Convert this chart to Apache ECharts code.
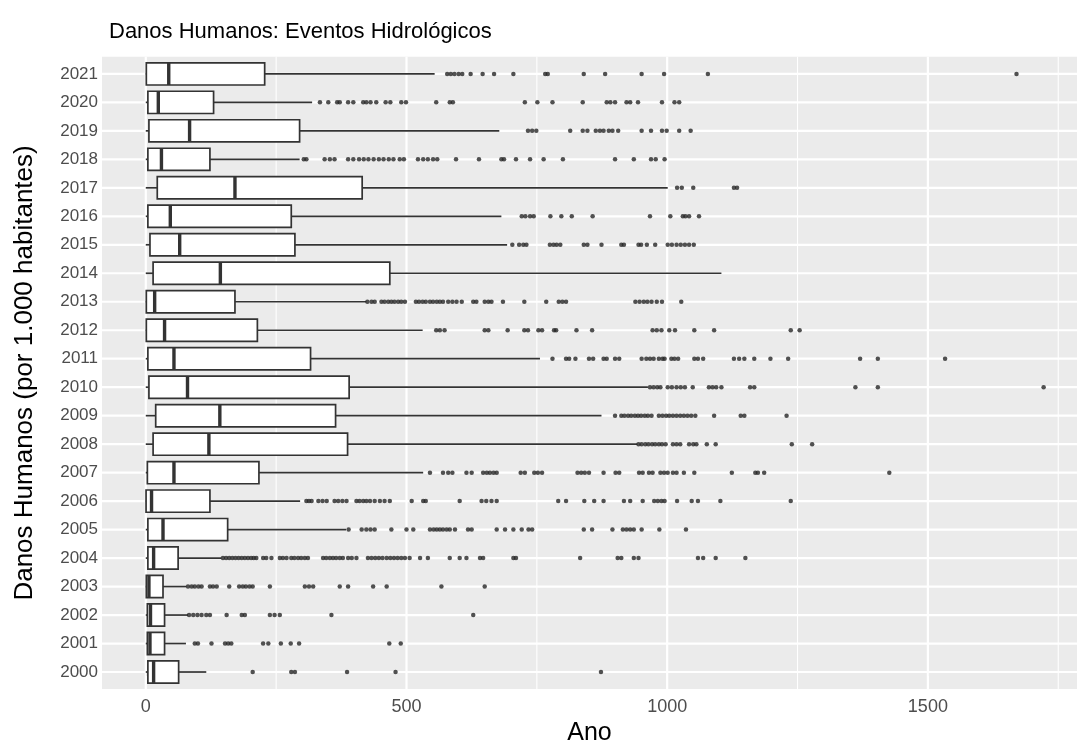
<!DOCTYPE html>
<html>
<head>
<meta charset="utf-8">
<title>Danos Humanos: Eventos Hidrológicos</title>
<script src="https://cdn.jsdelivr.net/npm/echarts@6/dist/echarts.min.js"></script>
<style>
  html, body { margin: 0; padding: 0; background: #ffffff; }
  #chart { width: 1077px; height: 751px; }
</style>
</head>
<body>
<div id="chart"></div>
<script>
// Categories (bottom to top)
const years = ['2000','2001','2002','2003','2004','2005','2006','2007','2008','2009','2010',
               '2011','2012','2013','2014','2015','2016','2017','2018','2019','2020','2021'];

// Value-axis ticks
const xMajorTicks = [0, 500, 1000, 1500];
const xMinorTicks = [250, 750, 1250, 1750];

// Box statistics per year, same order as `years`
const whiskerLow  = [0, 0, 0, 0, 0, 0, 0, 0, 0, 0, 0, 0, 0, 0, 0, 0, 0, 0, 0, 0, 0, 0];
const quartile1   = [4, 3, 3, 1, 4, 4, 0.5, 3, 14, 19, 6, 4, 1, 1, 14, 8, 4, 22, 4, 6, 4, 1];
const medianVal   = [15, 8, 9, 6, 15, 33, 11, 54, 121, 142, 80, 54, 36, 17, 143, 65, 47, 171, 30, 84, 24, 44];
const quartile3   = [63, 36, 36, 33, 62, 157, 123, 217, 387, 364, 390, 316, 214, 171, 468, 286, 279, 415, 123, 295, 130, 228];
const whiskerHigh = [116, 77, 81, 78, 145, 384, 296, 532, 943, 874, 963, 756, 531, 423, 1104, 693, 682, 1001, 295, 678, 319, 554];

// Outlying observations per year
const out2000 = [205, 279, 286, 386, 479, 873];
const out2001 = [94, 100, 126, 152, 158, 164, 225, 235, 259, 278, 294, 467, 489];
const out2002 = [83, 91, 99, 107, 116, 123, 155, 184, 190, 238, 247, 257, 356, 628];
const out2003 = [81, 88, 94, 101, 107, 123, 129, 136, 160, 179, 186, 192, 199, 205, 238, 305, 313, 321, 372, 388, 436, 462, 567, 650];
const out2004 = [148, 154, 160, 166, 172, 178, 184, 190, 196, 202, 207, 212, 225, 231, 241, 257, 263, 270, 279, 285, 292, 298, 305, 311,
                 340, 346, 353, 359, 365, 372, 378, 388, 395, 404, 426, 433, 440, 447, 454, 462, 469, 476, 483, 490, 497, 506, 526, 541,
                 583, 602, 615, 641, 647, 705, 710, 833, 905, 912, 936, 945, 1059, 1069, 1093, 1150];
const out2005 = [389, 414, 423, 431, 439, 471, 500, 513, 545, 552, 558, 564, 570, 577, 583, 593, 618, 625, 673, 689, 705, 721, 734, 741,
                 840, 856, 895, 915, 922, 929, 936, 951, 985, 1036];
const out2006 = [308, 313, 318, 331, 339, 347, 362, 369, 377, 385, 404, 410, 417, 423, 430, 439, 449, 458, 468, 510, 532, 537, 602,
                 644, 653, 663, 673, 791, 806, 841, 860, 878, 917, 929, 953, 975, 982, 989, 995, 1019, 1047, 1059, 1102, 1237];
const out2007 = [545, 570, 580, 588, 615, 625, 647, 654, 660, 667, 673, 719, 727, 745, 752, 760, 828, 835, 842, 850, 878, 901, 908,
                 946, 953, 965, 972, 987, 994, 1001, 1011, 1018, 1032, 1052, 1124, 1169, 1174, 1186, 1426];
const out2008 = [945, 951, 958, 964, 971, 977, 984, 990, 997, 1011, 1018, 1025, 1042, 1050, 1056, 1076, 1093, 1239, 1278];
const out2009 = [900, 912, 918, 925, 931, 938, 944, 950, 957, 963, 970, 984, 991, 998, 1004, 1011, 1018, 1025, 1032, 1039, 1046, 1054,
                 1090, 1141, 1148, 1229];
const out2010 = [967, 974, 981, 987, 1001, 1009, 1018, 1026, 1034, 1049, 1080, 1087, 1094, 1104, 1159, 1167, 1361, 1404, 1722];
const out2011 = [780, 806, 812, 824, 850, 858, 878, 884, 900, 908, 951, 960, 967, 974, 984, 991, 995, 1008, 1014, 1021, 1052, 1059,
                 1069, 1128, 1138, 1148, 1167, 1198, 1232, 1370, 1404, 1533];
const out2012 = [557, 564, 573, 650, 657, 694, 726, 733, 753, 760, 783, 787, 826, 856, 972, 980, 989, 1004, 1015, 1052, 1090, 1237, 1254];
const out2013 = [425, 433, 439, 452, 458, 465, 471, 477, 484, 490, 497, 518, 524, 531, 537, 545, 551, 558, 564, 570, 580, 588, 596,
                 606, 628, 634, 650, 657, 663, 685, 726, 768, 792, 799, 806, 939, 947, 955, 962, 970, 980, 990, 1027];
const out2014 = [];
const out2015 = [703, 716, 724, 730, 775, 782, 788, 795, 840, 847, 874, 912, 917, 945, 950, 961, 977, 1001, 1009, 1018, 1026, 1034,
                 1042, 1051];
const out2016 = [721, 728, 737, 744, 776, 797, 817, 857, 967, 1006, 1030, 1035, 1042, 1061];
const out2017 = [1019, 1028, 1050, 1128, 1134];
const out2018 = [303, 308, 343, 353, 362, 388, 398, 409, 418, 427, 437, 447, 456, 466, 475, 487, 495, 522, 532, 541, 551, 559, 595,
                 639, 682, 687, 710, 737, 763, 800, 900, 936, 969, 978, 995];
const out2019 = [733, 741, 749, 814, 838, 847, 863, 871, 878, 888, 895, 906, 951, 969, 990, 999, 1023, 1045];
const out2020 = [334, 350, 367, 372, 388, 398, 417, 423, 431, 442, 460, 469, 490, 499, 557, 583, 589, 727, 751, 780, 838, 884, 891,
                 900, 922, 929, 944, 990, 1014, 1023];
const out2021 = [578, 585, 592, 600, 607, 623, 646, 668, 705, 766, 771, 840, 881, 951, 994, 1078, 1670];

const outlierLists = [out2000, out2001, out2002, out2003, out2004, out2005, out2006, out2007, out2008, out2009, out2010,
                      out2011, out2012, out2013, out2014, out2015, out2016, out2017, out2018, out2019, out2020, out2021];

// ---- derived series data ----
const X_MIN = -84, X_MAX = 1786;
const Y_MIN = -0.6, Y_MAX = years.length - 1 + 0.6;
const boxData = years.map((_, i) => [i, whiskerLow[i], quartile1[i], medianVal[i], quartile3[i], whiskerHigh[i]]);
const outlierData = [];
outlierLists.forEach((list, i) => list.forEach(v => outlierData.push([v, i])));
const rowIndex = years.map((_, i) => i);

const INK = '#333333';
const FONT = '"Liberation Sans", Arial, sans-serif';

function vLine(width) {
  return function (params, api) {
    const v = api.value(0);
    const a = api.coord([v, Y_MAX]);
    const b = api.coord([v, Y_MIN]);
    return { type: 'line', shape: { x1: a[0], y1: a[1], x2: b[0], y2: b[1] },
             style: { stroke: '#ffffff', lineWidth: width } };
  };
}
function hLine(params, api) {
  const i = api.value(1);
  const a = api.coord([X_MIN, i]);
  const b = api.coord([X_MAX, i]);
  return { type: 'line', shape: { x1: a[0], y1: a[1], x2: b[0], y2: b[1] },
           style: { stroke: '#ffffff', lineWidth: 2.2 } };
}
function renderBox(params, api) {
  const yi = api.value(0);
  const lo = api.coord([api.value(1), yi]);
  const b1 = api.coord([api.value(2), yi]);
  const md = api.coord([api.value(3), yi]);
  const b3 = api.coord([api.value(4), yi]);
  const hi = api.coord([api.value(5), yi]);
  const h = api.size([0, 1])[1] * 0.78;
  const cy = lo[1];
  const stroke = { stroke: INK, lineWidth: 1.7 };
  return {
    type: 'group',
    children: [
      { type: 'line', shape: { x1: lo[0], y1: cy, x2: b1[0], y2: cy }, style: stroke },
      { type: 'line', shape: { x1: b3[0], y1: cy, x2: hi[0], y2: cy }, style: stroke },
      { type: 'rect', shape: { x: b1[0], y: cy - h / 2, width: b3[0] - b1[0], height: h },
        style: { fill: '#ffffff', stroke: INK, lineWidth: 1.7 } },
      { type: 'line', shape: { x1: md[0], y1: cy - h / 2, x2: md[0], y2: cy + h / 2 },
        style: { stroke: INK, lineWidth: 3.4 } }
    ]
  };
}

const chart = echarts.init(document.getElementById('chart'), null, { renderer: 'canvas' });
chart.setOption({
  animation: false,
  backgroundColor: '#ffffff',
  textStyle: { fontFamily: FONT },
  title: {
    text: 'Danos Humanos: Eventos Hidrológicos',
    left: 104, top: 16,
    textStyle: { fontSize: 22, fontWeight: 'normal', color: '#000000', fontFamily: FONT }
  },
  grid: {
    left: 102, right: 0, top: 56.8, bottom: 57.8,
    show: true, backgroundColor: '#EBEBEB', borderWidth: 0
  },
  xAxis: {
    type: 'value', min: X_MIN, max: X_MAX,
    name: 'Ano', nameLocation: 'middle', nameGap: 31,
    nameTextStyle: { fontSize: 25, color: '#000000', fontFamily: FONT },
    axisLine: { show: false },
    axisTick: { show: true, length: 4, customValues: xMajorTicks, lineStyle: { color: INK, width: 1 } },
    axisLabel: { customValues: xMajorTicks, fontSize: 18, color: '#4D4D4D', margin: 9,
                 formatter: v => String(v) },
    splitLine: { show: false }
  },
  yAxis: {
    type: 'value', min: Y_MIN, max: Y_MAX,
    name: 'Danos Humanos (por 1.000 habitantes)', nameLocation: 'middle', nameRotate: 90, nameGap: 64,
    nameTextStyle: { fontSize: 26, color: '#000000', fontFamily: FONT },
    axisLine: { show: false },
    axisTick: { show: true, length: 4, customValues: rowIndex, lineStyle: { color: INK, width: 1 } },
    axisLabel: { customValues: rowIndex, fontSize: 17, color: '#4D4D4D', margin: 4,
                 formatter: v => years[Math.round(v)] },
    splitLine: { show: false }
  },
  series: [
    { type: 'custom', name: 'minor', z: 1, silent: true, renderItem: vLine(1.1),
      data: xMinorTicks.map(v => [v, 0]), encode: { x: 0, y: 1 } },
    { type: 'custom', name: 'major', z: 1, silent: true, renderItem: vLine(2.2),
      data: xMajorTicks.map(v => [v, 0]), encode: { x: 0, y: 1 } },
    { type: 'custom', name: 'rows', z: 1, silent: true, renderItem: hLine,
      data: rowIndex.map(i => [0, i]), encode: { x: 0, y: 1 } },
    { type: 'custom', name: 'boxes', z: 2, renderItem: renderBox,
      dimensions: ['row', 'low', 'q1', 'median', 'q3', 'high'],
      data: boxData, encode: { x: [1, 2, 3, 4, 5], y: 0 } },
    { type: 'scatter', name: 'outliers', z: 3, symbol: 'circle', symbolSize: 4.5,
      itemStyle: { color: '#262626' }, data: outlierData }
  ]
});
</script>
</body>
</html>
